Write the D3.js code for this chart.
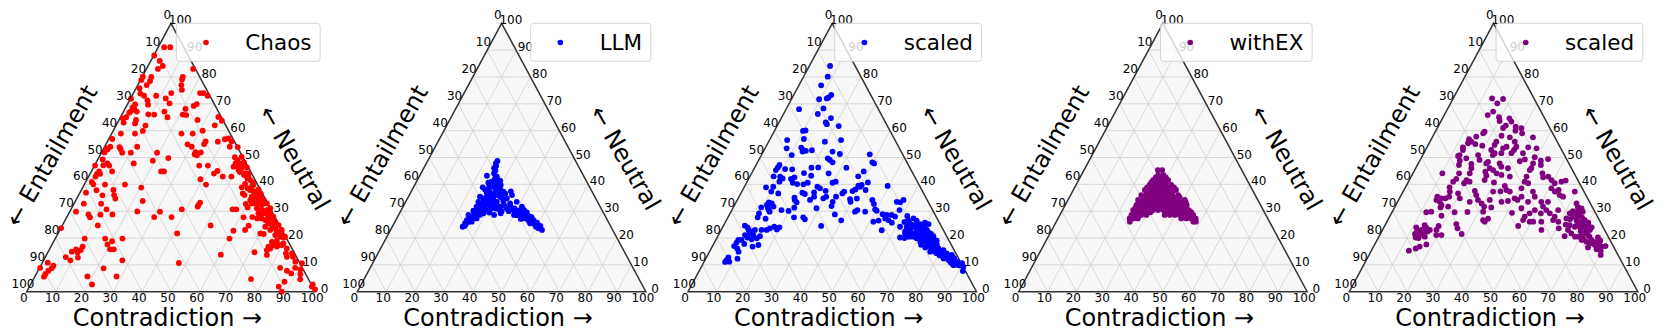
<!DOCTYPE html>
<html>
<head>
<meta charset="utf-8">
<script src="https://cdn.jsdelivr.net/npm/d3@7"></script>
<style>
body { margin: 0; background: #fff; }
text { font-family: "DejaVu Sans", sans-serif; fill: #000; }
</style>
</head>
<body>
<div class="chart"></div>
<script>
// every point is [contradiction, neutral] in percent, entailment is the remainder
const chaos = [[2.1,91.1],[4.2,91.1],[0.2,88],[3.1,86],[5.1,84.1],[4,83],[16.2,83],[0.2,80.1],[3.2,80],[14.1,80],[14.3,79.1],[0.3,78.9],[3.5,78.5],[3.1,77],[15.1,77],[1.2,75.8],[16.2,75.2],[13.1,74],[23.1,74],[24.3,74],[26.2,73],[2.5,73.8],[4.2,73],[8.4,73],[12.2,72],[0.2,71.9],[6.2,71.3],[7.2,69.7],[14.4,70.2],[24,69.9],[23.3,69.2],[2.7,69.8],[2.4,68.7],[3.3,68],[2.5,67.3],[2.2,66.7],[21,68.1],[14.2,67.1],[9.1,66.1],[11.2,66],[4.6,67.1],[2,65],[1,64.6],[21.1,66],[22.4,65.8],[16.3,65],[33.9,65.1],[27.2,64],[5.9,64],[6.2,62.7],[2.1,63],[10.2,61.9],[34.2,62],[35.8,63.7],[10.3,59.9],[8.1,58.9],[3.2,58.9],[24.2,58.9],[28.1,58.9],[31,60],[1.2,56.9],[41.4,57.1],[40.3,56.8],[38.3,55.9],[43,56],[34,55],[34,56],[28.3,54.9],[30.2,54],[11.3,54],[43.4,54],[46.2,53.9],[2,54],[1.5,53],[5.2,53.9],[5.9,53.2],[7.2,51.8],[10.2,51.8],[1,51.9],[1,53.4],[19.3,51.8],[32.5,52],[34.4,51.9],[32.6,51.2],[33.6,50.8],[24.2,49.8],[19.3,48.8],[13.2,47.8],[1.7,49.3],[47.1,50.1],[49.4,50.2],[48.5,47.8],[49.9,47.8],[51.2,48.2],[4.1,47.8],[5.1,47],[3,47.1],[0.2,47],[36.3,47],[39.3,47],[49.3,46.8],[53.2,46.3],[50.8,45.3],[51.6,44.6],[51.5,46],[43.6,45],[42.9,44],[24.2,44.8],[25.2,44.8],[7.2,44.8],[2.7,44.8],[2.4,43.9],[2.4,42.9],[3.5,43.9],[46.5,42.9],[49.5,42.9],[53.6,43.5],[54.8,44.1],[39.3,41.9],[55.4,42.2],[56.7,41.6],[58.1,40.6],[2.1,40.9],[3.1,40],[7.2,39.9],[14.1,39.9],[42.2,39.9],[55.6,40.2],[55.1,38.9],[20.3,38.8],[11.1,37.9],[5.3,37.8],[2.1,36.9],[8.3,35.9],[12.3,36],[13.4,34.7],[56.6,36.6],[57.5,36],[58.5,37.9],[60,37.3],[61.3,38.1],[61.5,36.6],[63.2,35.4],[60.3,35.4],[61.5,34.2],[62.8,32.9],[64.2,31.1],[65.7,29.2],[67.8,27.3],[69.3,26.7],[67.5,29.2],[68,30.4],[69.8,29.2],[71.3,27.3],[72.8,25.5],[71,25.5],[70.6,24.2],[74.3,23.6],[76.1,22.4],[77.9,21.1],[79.3,20.5],[23.3,33.8],[3.4,32.8],[9.4,32.8],[43.5,33.2],[43.4,32.3],[43.4,31.7],[59.6,32.7],[60.9,31.4],[12.3,30.7],[2.2,29.8],[23.4,29.9],[31.3,29.8],[38.4,30.7],[56,30.7],[57.3,30.7],[7,28.8],[8.1,27.7],[15.3,28.8],[11.2,28.7],[30.3,27.8],[36.3,27.8],[61.3,27.7],[64.3,27.8],[12.3,24.7],[51.4,24.7],[64.6,24.6],[64.2,23],[60.3,22.7],[41.3,21.7],[70.1,21.7],[71.4,21.5],[0.1,23.7],[10.2,19.8],[17.3,19.8],[23.3,19.8],[60.4,19.8],[20.2,18.8],[19.2,17.6],[11,16.8],[11,15.5],[9.2,15.8],[8.2,14.9],[10.3,14.7],[21,15.8],[22.3,15.8],[75.7,18.6],[77.2,19],[75.4,16.8],[75.5,15.5],[76.8,17.4],[80,18],[82.1,16.1],[82.7,14.3],[84.8,14.3],[76.4,13.7],[71.6,14.7],[60.4,13.8],[7.1,12.9],[9.3,11.7],[11.4,12.7],[27.3,11.7],[1.9,10.8],[85.8,13],[87.5,11.2],[4.4,9.7],[47.4,10.7],[0.2,8.9],[4.3,8.7],[22.3,8.7],[88.6,8.9],[83.4,8.9],[90.1,10.6],[90.7,8.3],[86.3,7.8],[88.3,6.8],[91.6,6.5],[3.6,7.8],[3.2,6.6],[3.2,5.6],[18.2,5.7],[28.3,5.7],[75.4,4.7],[21.3,2.7],[92.5,4.6],[87.5,3.7],[86.4,1.9],[88.4,0],[97.8,2.7],[99.5,0.9],[97.9,1.9],
    [60.5,37.3],[63,36.4],[65,34.2],[63.2,34.2],[66.8,32.9],[65.4,32.3],[68.9,31.1],[65.7,30.4],[68.1,29.2],[71.5,28],[69.8,28],[73,26.1],[72.6,24.8],[74.9,24.8],[72.9,23],[75.5,22.4],[76.9,23],[78.9,20.2],[77.6,20.5],[75.6,21.1],[55.4,42.9],[58.5,39.1],[57.3,38.5],[58.7,39.8],[53.7,44.1],[51,47.2],[48.5,49.1],[48.4,46.6],[79.7,17.4],[78.6,17.4],[83.7,13],[78.3,16.8],[76.4,16.1],[61.6,32.9],[60.4,34.2],[61.5,35.4],[63.9,32.9],[66.3,30.4],[66.9,28],[69.9,26.7],[66.2,27.3]];

const llm = [[24.2,48.7],[24.1,47.8],[24.7,46.8],[24.4,46],[25.3,45.1],[25.3,44.1],[23.3,43.2],[26.9,42.9],[26.6,42.2],[28.8,41.4],[25.1,40.6],[27,40.4],[29.8,39.8],[24,38.9],[25.2,38.1],[26.2,39.1],[28.5,38.5],[30.2,38.5],[34.5,37.4],[35.6,36],[32,37.3],[26.4,36.9],[28,36],[30.3,36],[24.8,35.4],[26.3,34.8],[31.8,35.4],[34.4,34.8],[25.2,33.5],[27.8,32.9],[30.1,34.2],[31.6,33.5],[33.9,33.5],[38.5,33.5],[36.5,32.9],[25.5,31.7],[27.6,31],[30.2,30.4],[29.9,32.3],[33.6,31.7],[36.3,31],[38.2,30.7],[41.2,31.7],[41.2,30.4],[25.1,30.2],[24.2,28.6],[26.8,29.2],[33.1,28.6],[35.1,29.2],[40,28.6],[43,28],[44.4,28.6],[45.9,28],[47.7,26.7],[49.4,25.7],[51.2,24.5],[52.5,23],[51,23.6],[47.1,25.5],[44.5,27.3],[43.1,27.1],[28.2,28.6],[26.2,28],[25.7,26.7],[24.6,26.7],[24.6,25.5],[24.4,24.2],[24.9,24.5],[26.6,26.1],[27.7,27.3],[29.1,29.2],[49,25.2],[46.1,26.5],[47.4,26.1],[41.2,29.8],[39.5,30.4],
    [25,25],[25.5,26],[26,27],[26.5,27.5],[25.3,27.5],[27,28.2],[27.5,29],[26,29],[28,30],[26.6,30.5],[28.5,31],[27,31.5],[29,32.5],[26.5,32.5],[28.5,33.5],[26.8,34],[28,34.6],[29.5,35],[27.2,35.5],[29,36.5],[27,37.5],[29.5,37.5],[28,39],[29,39.5],[26,41],[28,40.8],[31,33],[32,32],[32.5,31],[34,30.5],[35,32],[35,30],[37,32],[37.5,30],[39,31],[39.7,29.7],[40.5,30],[42,29.5],[42.5,30.5],[43,29],[44,28],[45,27.5],[46,27],[46.5,27.8],[48,26],[48.5,25.3],[50,25],[50.5,24.6],[49.8,24.2],[44,29.5],[46,28],[31,31],[31,29.5],[30,33],[32.5,35],[33,36.5],[31,37],[28,34],[30,32],[29,29.7],[41,28.5]];

const withEx = [[25.6,45.3],[27.1,45.3],[26.6,43.5],[28.4,43.5],[25.8,41.6],[27.5,41.6],[29.3,41.6],[31,41.6],[25.5,39.8],[27.3,39.8],[29,39.8],[30.7,39.8],[33,39.8],[24.8,37.9],[26.5,37.9],[28.3,37.9],[30,37.9],[31.7,37.9],[33.5,37.9],[35.6,37.9],[24.5,36],[26.3,36],[28,36],[29.7,36],[31.5,36],[33.2,36],[34.9,36],[37.3,36],[24.3,34.2],[26,34.2],[27.8,34.2],[29.5,34.2],[31.2,34.2],[33,34.2],[34.7,34.2],[36.4,34.2],[38.2,34.2],[40.5,34.2],[24.7,32.3],[26.4,32.3],[28.2,32.3],[29.9,32.3],[31.6,32.3],[33.4,32.3],[35.1,32.3],[36.8,32.3],[38.6,32.3],[40.3,32.3],[42.1,32.3],[24.5,30.4],[26.2,30.4],[27.9,30.4],[29.7,30.4],[31.4,30.4],[33.1,30.4],[34.9,30.4],[36.6,30.4],[38.3,30.4],[40.1,30.4],[41.8,30.4],[43.8,30.4],[24.8,28.6],[26.5,28.6],[28.2,28.6],[30,28.6],[36.3,28.6],[38.1,28.6],[39.8,28.6],[41.5,28.6],[43.3,28.6],[45,28.6],[46.2,28.6],[24.8,27.3],[26.2,27.3],[27.7,27.3],[42.7,27.3],[44.5,27.3],[46.2,27.3],[47.7,27.3],[25.5,26.1],[47.5,26.1],[48.4,26.1],[26.1,37],[27.9,37],[29.6,37],[31.3,37],[33.1,37],[34.8,37],[25.8,35.2],[27.5,35.2],[29.2,35.2],[31,35.2],[32.7,35.2],[34.4,35.2],[36.2,35.2],[38.2,35.2],[25.6,33.3],[27.3,33.3],[29.1,33.3],[30.8,33.3],[32.5,33.3],[34.3,33.3],[36,33.3],[37.7,33.3],[39.5,33.3],[41.3,33.3],[24.8,31.4],[26.5,31.4],[28.2,31.4],[30,31.4],[31.7,31.4],[33.4,31.4],[35.2,31.4],[36.9,31.4],[38.6,31.4],[40.4,31.4],[42.1,31.4],[25.7,29.6],[27.4,29.6],[29.1,29.6],[30.9,29.6],[36.4,29.6],[38.1,29.6],[39.9,29.6],[41.6,29.6],[43.4,29.6],[45,29.6],[25.1,38.9],[26.8,38.9],[28.6,38.9],[30.3,38.9],[32,38.9],[34.4,38.9],[25.6,40.7],[27.3,40.7],[29.1,40.7],[30.8,40.7],[26.2,42.6],[27.9,42.6],[29.7,42.6]];

const scaledBlue = [[7.2,84.1],[8.4,80.1],[7.7,76.9],[13,73.3],[12.5,72.4],[12.1,72],[9.6,71.7],[4.5,68],[12.8,68.3],[11.9,66.2],[17.2,64.7],[16.2,63.1],[16.9,62.4],[21.4,61.7],[10.7,60.1],[9.9,59.9],[11.7,56.9],[6.1,56.5],[24.8,56.5],[19.5,55.9],[7.5,53.4],[12.4,53.7],[13.4,52.8],[14.6,52.5],[16.6,52.7],[13.6,52.2],[10.5,50.9],[24,52.2],[27,51.3],[37.4,51.2],[23.6,49.7],[24.6,49.1],[26,48.2],[39.8,48.2],[40.6,47.8],[8.1,47.2],[8,46.3],[10.8,45.7],[13.3,45.6],[19.7,46.2],[22,46.3],[31.8,46.2],[38.5,44.8],[7.8,45.3],[8.2,43],[18.1,44.2],[21.1,43.2],[26.7,44.1],[37.5,43],[10.5,42.9],[11.7,42.2],[11.2,41],[15.6,42.6],[14.7,42],[16,40.6],[17.8,40.1],[20,40],[21.2,40.6],[42,40.7],[49.5,39.4],[29.8,40.6],[30.7,41],[39.3,39.5],[40.3,39.8],[40.1,39.1],[7.6,38.9],[10,39.1],[25.3,39.1],[26.5,38.5],[28.9,37.6],[39,38.1],[38.3,37.5],[42.6,37.9],[10.2,37.3],[13,36.6],[21.2,36.9],[22.3,36.4],[25.2,37],[35.5,37.3],[35.2,36.6],[33.6,35.4],[26,35.4],[25.2,34.2],[29.5,34.8],[30.2,35.4],[19.4,35],[38.9,34.5],[41.2,34.7],[46.8,34.2],[56.9,33.3],[57.6,34.2],[55.6,33.5],[11.4,33.3],[12.6,32.9],[11.2,32.3],[19.9,34.2],[21,33.3],[33.4,33.5],[39.6,33.5],[48.1,32.7],[9.7,31.4],[13.8,31.7],[33.8,31.9],[13.4,29.8],[12.2,31.1],[17.2,30.4],[21.2,31.3],[19.8,30.1],[29,31.1],[43.5,30.4],[43,29.8],[46.5,29.8],[49.5,30.7],[58.1,30.4],[10,29.2],[10.3,27.7],[12.8,30.4],[36.5,28.8],[50.3,30.2],[53,28.9],[54.6,28.6],[56.3,28.6],[57.8,28],[22.9,27.7],[26.1,27.7],[27,27],[13.3,27.2],[39.8,26.6],[51.2,26.1],[52.8,26.5],[54.7,27.3],[56.1,26.7],[57.8,25.7],[61.9,28.2],[63,26.7],[64.5,27.3],[66,26.5],[67.9,25.2],[69.3,25.7],[70.8,25.2],[33.9,24.5],[55.7,22.9],[7.4,24.6],[8.6,24],[9.5,23],[19.7,24],[17.8,24.2],[19.2,23.2],[16.6,23.6],[15.8,23],[14,23],[11.7,23],[10.9,22.4],[10.6,21.7],[12.1,21.1],[61.4,24.2],[63.7,24.2],[65.5,23],[66.1,24.2],[67.8,23],[70.2,21.7],[71.3,23],[63.4,20.2],[66.2,20.5],[64.4,21.7],[67.3,21.7],[70.5,19.9],[72.2,19.9],[73.1,20.5],[74.7,20.7],[76.7,19],[74.9,18],[72.9,18.6],[71.2,18.6],[69.3,19.9],[75.8,17.4],[74.3,17],[78.8,16.1],[77.3,15.5],[80.8,15.5],[76.5,14.9],[79,14.3],[81.2,13.7],[82.5,14.3],[84.6,13.7],[84.4,11.8],[86.1,11.8],[82.4,12.4],[87.6,11.2],[88.8,9.9],[87.1,9.9],[89.7,10.6],[90.8,9.3],[91.4,7.7],[14.6,20.7],[13.9,19.9],[12.3,19.5],[10.5,20.2],[9.2,21.1],[8.9,19.3],[7.8,19.3],[7.7,18.3],[7.5,17],[9,16.1],[10.1,14.9],[14,16.8],[15.7,17.4],[10.6,17.8],[7.6,12.8],[7.5,11.8],[7.3,11.1],[8.7,11.2],[11,12.3],
    [62,26],[64,25.5],[65,25],[66.5,25],[68,24],[69,23.5],[70,24],[71,22],[72.5,22],[72,21],[73.5,21.5],[71,20.5],[74,19.5],[75.5,19.5],[73.5,18.5],[75,18],[76.5,18],[77.5,17.5],[76,16.5],[77.7,16.5],[79,15.5],[78,15],[79.5,14.8],[81,14.5],[80.5,13.5],[82,13.2],[83.5,13.5],[83,12.8],[85,12.5],[86,12.5],[84.5,12.8],[87,11],[85.5,11],[88.5,10.5],[86.5,10.3],[89.5,9.8],[68,22.5],[66,22],[69,21],[64,22.5],[65,20],[67.5,20.5],[74,16.5],[72,17.5]];

const scaledPurple = [[13.5,72],[17.4,71.8],[16.2,70.2],[16.3,67.1],[15.1,65.8],[19.4,65],[20.3,63.6],[23.2,64.6],[24.5,63.4],[23.3,61.9],[22.8,61],[26.9,61.5],[27.6,60],[29.2,60.9],[30.4,59],[17.1,59.6],[16.9,59],[15.1,57.8],[23.7,58.1],[34.9,57.5],[13.1,56.8],[14.4,55.9],[13.5,55.3],[16.2,55],[23,55.9],[26.9,57.5],[23,54.7],[29.4,55.9],[27.5,54],[30.9,54],[18.9,54.4],[12.5,53.8],[13,52.8],[26.6,53.4],[35.1,53.8],[38.2,53.4],[30.7,52.8],[22.8,52.8],[24.6,51.6],[24.3,50.9],[26.9,51.6],[34.4,51.6],[30.4,51.6],[12.4,50.6],[12.8,50.9],[15.7,49.7],[19.2,50.9],[20.6,49.1],[39.2,50.1],[36.2,49.3],[34.8,48.6],[44.2,49.4],[42,48.8],[42.8,47.2],[39.8,47.8],[13.9,48.8],[14.4,47.2],[18.5,47.6],[23.9,48.4],[28.2,47.8],[29.4,46.6],[40.1,46],[32,46],[19.3,46],[23.6,47.8],[25.7,46],[27.2,45.3],[29,44.1],[31,43.5],[39.9,45.3],[10.2,44.1],[16,44.1],[19.7,44.1],[24.8,44.7],[25.9,43.2],[26.1,41.6],[34.2,42.9],[44.9,44.1],[45.9,42.6],[47.5,42.9],[49.3,41.6],[40,42.9],[40.3,41],[41.8,40.4],[21.2,41],[19.8,41.6],[19.6,40.4],[16.1,42],[15.5,41],[15.3,38.9],[29.8,40.7],[34.2,39.4],[35.5,37.9],[40.4,38.5],[37,37.3],[33.7,37.4],[31.2,37.3],[24.7,37.6],[26,36],[16.2,37.3],[19.4,36.6],[16.9,35.4],[12.8,35.4],[14.5,34.8],[13.1,34.2],[15.9,34.8],[14.6,33.5],[15.8,32.3],[20.9,34.8],[25,33.5],[27.5,34.2],[29.4,32.9],[31.6,34.2],[36,33.5],[38.1,33.8],[39.9,34.8],[42,35.4],[41.2,34.2],[45.2,33.5],[46.6,35.4],[45,37.3],[50.8,38.5],[52.6,37.3],[53.6,37.9],[53,41],[54.3,41.4],[51,40.4],[59.5,37.3],[54.9,36],[56.4,35.4],[49.8,33.5],[52.1,33.5],[51.3,31.7],[53.1,30.4],[54.9,29.2],[57.2,28],[57.2,30.4],[59.4,26.1],[60.8,23.6],[57.3,26.7],[62.3,32.9],[64.1,30.4],[61.8,29.2],[61.6,27.3],[63.6,28],[65.4,26.7],[65.6,28.6],[67.4,26.1],[64,24.8],[66.1,24.2],[67.8,24.2],[68.3,26.7],[70.4,24.8],[71.9,23],[70.2,21.7],[69.5,24.2],[64.3,23],[66.1,21.7],[64.3,20.7],[69.3,20.5],[72.2,21.1],[70.9,19.3],[72.9,18.6],[74.3,19.3],[76.1,20.2],[76.4,17.4],[79,16.8],[80.3,17],[74.5,16.5],[77.8,15.8],[80.3,13.7],[79.5,15.3],[33.5,31.4],[31.5,29.8],[30.9,31.7],[26.1,29.7],[21.7,29.6],[18.4,31.7],[15.9,31.4],[13.5,29.8],[11.9,29.6],[17.8,28.3],[18.7,24.5],[18.7,23],[24.5,25.2],[25.7,23.6],[28.2,21.5],[33,26.7],[34.5,27.2],[33.9,26.1],[46.3,24.5],[41.7,29.4],[44.1,31.1],[47.9,29.2],[49.1,30.4],[46.8,28],[46.9,26.7],[49.5,26.1],[50.7,26.1],[51.8,29.2],[53.5,26.1],[55.1,23],[11.2,24],[13.7,24.8],[13.5,23],[16.4,23],[12.9,20.2],[14.1,21.7],[15.9,20.5],[15.9,22.4],[19.6,21.1],[21.4,21.1],[17.9,17.6],[16,16.8],[15,16.1],[13,15.3],
    [62.5,30],[63,27],[64.5,29],[65,27.5],[66,26],[66.8,27.7],[67,25],[68,25.5],[68.5,23.5],[70,25.7],[70.5,23.5],[69,22.5],[71,22.5],[72,24],[68,20.5],[70.5,20.5],[71.5,19.5],[73,20.5],[62.5,25],[63.5,31.5],[65,31],[66,29.8],[74.5,18],[76,18.5],[78,17.5],[77.5,19],[12,21.5],[13,22],[14.5,22.5],[14,20],[13,21],[15,21.2],[12.2,22.7],[14.8,23.8]];

const tickValues = [0, 10, 20, 30, 40, 50, 60, 70, 80, 90, 100];

const panels = [
    {name: "Chaos", color: "#ff0000", points: chaos},
    {name: "LLM", color: "#0000ff", points: llm},
    {name: "scaled", color: "#0000ff", points: scaledBlue},
    {name: "withEX", color: "#800080", points: withEx},
    {name: "scaled", color: "#800080", points: scaledPurple}
];

const triWidth = 288.5, triTop = 23.3, triBottom = 291.7;
const panelStep = 330.65, panelLeft = 26.7;

const xScale = d3.scaleLinear().domain([0, 100]).range([0, triWidth]);
const yScale = d3.scaleLinear().domain([0, 100]).range([triBottom, triTop]);

// ternary to screen, c = contradiction, n = neutral
const px = (c, n) => xScale(c + n / 2);
const py = n => yScale(n);
const outline = d3.line().x(d => px(d[0], d[1])).y(d => py(d[1]));

const svg = d3.select(".chart").append("svg")
    .attr("width", 1661)
    .attr("height", 332);

panels.forEach((panel, i) => {
    const g = svg.append("g")
        .attr("transform", "translate(" + (panelLeft + i * panelStep) + ",0)");

    const corners = [[0, 0], [100, 0], [0, 100]];

    g.append("path")
        .attr("d", outline(corners) + "Z")
        .attr("fill", "#f7f7f7");

    // grid, one family of lines per component
    const gridLines = [];
    tickValues.slice(1, -1).forEach(t => {
        gridLines.push([[0, t], [100 - t, t]]);
        gridLines.push([[t, 0], [t, 100 - t]]);
        gridLines.push([[100 - t, 0], [0, 100 - t]]);
    });

    g.selectAll(".grid")
        .data(gridLines)
        .enter().append("path")
        .attr("class", "grid")
        .attr("d", d => outline(d))
        .attr("fill", "none")
        .attr("stroke", "#cfcfcf")
        .attr("stroke-width", 0.8);

    g.append("path")
        .attr("d", outline(corners) + "Z")
        .attr("fill", "none")
        .attr("stroke", "#333")
        .attr("stroke-width", 1.5);

    g.selectAll(".dot")
        .data(panel.points)
        .enter().append("circle")
        .attr("class", "dot")
        .attr("cx", d => px(d[0], d[1]))
        .attr("cy", d => py(d[1]))
        .attr("r", 2.9)
        .attr("fill", panel.color);

    // tick labels
    g.selectAll(".tick-c")
        .data(tickValues)
        .enter().append("text")
        .attr("class", "tick-c")
        .attr("x", d => px(d, 0) - 3)
        .attr("y", py(0) + 6)
        .attr("text-anchor", "middle")
        .attr("dominant-baseline", "central")
        .attr("font-size", 12)
        .text(d => d);

    g.selectAll(".tick-e")
        .data(tickValues)
        .enter().append("text")
        .attr("class", "tick-e")
        .attr("x", d => px(0, 100 - d) - 3.7)
        .attr("y", d => py(100 - d) - 8)
        .attr("text-anchor", "middle")
        .attr("dominant-baseline", "central")
        .attr("font-size", 12)
        .text(d => d);

    g.selectAll(".tick-n")
        .data(tickValues)
        .enter().append("text")
        .attr("class", "tick-n")
        .attr("x", d => px(100 - d, d) + 9.3)
        .attr("y", d => py(d) - 3)
        .attr("text-anchor", "middle")
        .attr("dominant-baseline", "central")
        .attr("font-size", 12)
        .text(d => d);

    // axis titles
    g.append("text")
        .attr("x", xScale(50) - 3.5)
        .attr("y", 317.5)
        .attr("text-anchor", "middle")
        .attr("dominant-baseline", "central")
        .attr("font-size", 24)
        .text("Contradiction →");

    g.append("text")
        .attr("transform", "translate(" + (xScale(8.8) - 0.5) + ",156) rotate(-60)")
        .attr("text-anchor", "middle")
        .attr("dominant-baseline", "central")
        .attr("font-size", 24)
        .text("← Entailment");

    g.append("text")
        .attr("transform", "translate(" + (xScale(93.3) - 1.5) + ",158) rotate(60)")
        .attr("text-anchor", "middle")
        .attr("dominant-baseline", "central")
        .attr("font-size", 24)
        .text("← Neutral");

    // legend, box width follows the text like matplotlib does
    const legend = g.append("g");
    const legendRight = xScale(100) + 5;
    const box = legend.append("rect");
    const label = legend.append("text")
        .attr("x", legendRight - 8.7)
        .attr("y", 42)
        .attr("text-anchor", "end")
        .attr("dominant-baseline", "central")
        .attr("font-size", 21.5)
        .text(panel.name);
    const textStart = legendRight - 8.7 - label.node().getComputedTextLength();
    box.attr("x", textStart - 69)
        .attr("y", 23.3)
        .attr("width", legendRight - textStart + 69)
        .attr("height", 38)
        .attr("rx", 3)
        .attr("fill", "#fff")
        .attr("fill-opacity", 0.8)
        .attr("stroke", "#ccc")
        .attr("stroke-opacity", 0.8);
    legend.append("circle")
        .attr("cx", textStart - 39.3)
        .attr("cy", 42.5)
        .attr("r", 2.8)
        .attr("fill", panel.color);
});
</script>
</body>
</html>
